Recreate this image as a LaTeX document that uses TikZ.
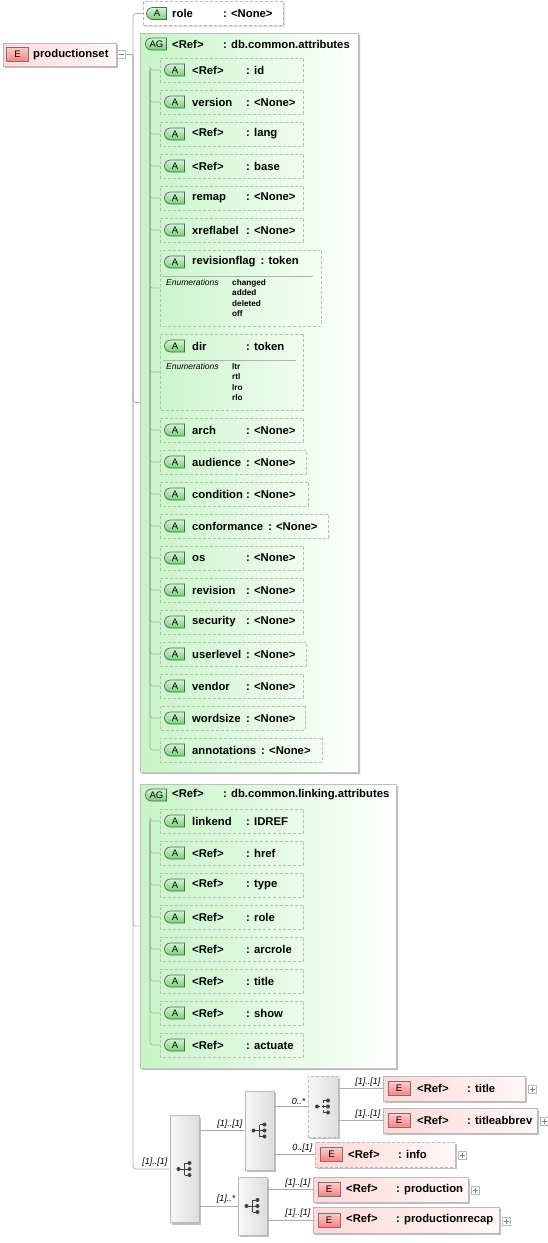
\documentclass[tikz,border=0pt]{standalone}
\usepackage{fontspec}
\setmainfont{Liberation Sans}
\usetikzlibrary{shapes.misc}
\usetikzlibrary{shadows}

\definecolor{agleft}{RGB}{198,245,198}
\definecolor{iconline}{RGB}{70,110,70}
\definecolor{icontop}{RGB}{215,245,215}
\definecolor{iconbot}{RGB}{120,205,120}

\newlength\namewd
\newcommand\attline[3][54pt]{\settowidth\namewd{#2}%
  \ifdim\namewd<#1\relax\setlength\namewd{#1}\else\addtolength\namewd{5pt}\fi
  \makebox[\namewd][l]{#2}: #3}

\begin{document}
\begin{tikzpicture}[x=1pt,y=1pt,yscale=-1,xscale=1,
  conn/.style={draw=gray!65, line width=0.7pt, rounded corners=3pt},
  nm/.style={anchor=west, inner sep=0pt, font=\bfseries\fontsize{11.3}{13}\selectfont},
  attbox/.style={chamfered rectangle, chamfered rectangle corners={north west,south west}, chamfered rectangle sep=5pt, draw=gray!55, dash pattern=on 3pt off 2pt, line width=0.8pt, inner sep=0pt, minimum height=24pt, anchor=west},
  agbox/.style={chamfered rectangle, chamfered rectangle corners={north west,south west}, chamfered rectangle sep=10pt, draw=gray!50, line width=0.7pt, left color=agleft, right color=white, inner sep=0pt, drop shadow={shadow xshift=2pt, shadow yshift=-2pt, fill=black!25, opacity=1}},
  aicon/.style={rounded rectangle, rounded rectangle right arc=none, draw=iconline, line width=0.7pt, top color=icontop, bottom color=iconbot, minimum width=20pt, minimum height=12pt, inner sep=0pt, font=\fontsize{9.5}{9.5}\selectfont},
  elbox/.style={draw=gray!55, line width=0.7pt, left color=red!15, right color=red!3, inner sep=0pt, drop shadow={shadow xshift=2pt, shadow yshift=-2pt, fill=black!25, opacity=1}},
  eicon/.style={draw=black!55, line width=0.7pt, top color=red!20, bottom color=red!50, minimum width=22pt, minimum height=14pt, inner sep=0pt, font=\fontsize{9.5}{9.5}\selectfont},
  seqbox/.style={draw=gray!55, line width=0.7pt, left color=gray!6, right color=gray!26, minimum width=29pt, inner sep=0pt, drop shadow={shadow xshift=2pt, shadow yshift=-2pt, fill=black!25, opacity=1},
    path picture={
      \draw[black!75, line width=1pt, shift={(path picture bounding box.center)}] (-6,0) -- (0,0) (0,-6) -- (0,6) (0,-6) -- (4,-6) (0,6) -- (4,6) (0,0) -- (4,0);
      \fill[black!75, shift={(path picture bounding box.center)}] (-6,0) circle (2pt) (5,-6) circle (2pt) (5,0) circle (2pt) (5,6) circle (2pt);}},
  pmbox/.style={draw=gray!55, fill=white, minimum size=8pt, inner sep=0pt},
  plus/.style={pmbox, path picture={\draw[gray, shift={(path picture bounding box.center)}] (-2.5,0) -- (2.5,0) (0,-2.5) -- (0,2.5);}},
  minus/.style={pmbox, path picture={\draw[gray, shift={(path picture bounding box.center)}] (-2.5,0) -- (2.5,0);}},
  mult/.style={anchor=south east, inner sep=2pt, font=\itshape\fontsize{9}{9}\selectfont},
  sepline/.style={draw=gray!60, line width=0.6pt},
  enumlbl/.style={anchor=north west, inner sep=0pt, font=\itshape\fontsize{8.5}{10.5}\selectfont},
  enumval/.style={anchor=north west, inner sep=0pt, align=left, font=\bfseries\fontsize{8.2}{10.5}\selectfont}]
\useasboundingbox (0,0) rectangle (547,1243);

%Shape: Element productionset
\node[elbox, minimum width=113pt, minimum height=23pt] (pset) at (59.5,54.5) {};
\node[eicon] (pset-i) at (17.5,54.5) {E};
\node[nm] (pset-t) at (33,54.5) {productionset};
\node[minus] (pset-m) at (121,54.5) {};
\coordinate (trunk) at (133,54.5);

%Shape: Attribute role
\node[attbox, fill=white, minimum width=140pt, drop shadow={shadow xshift=1.5pt, shadow yshift=-1.5pt, fill=black!12, opacity=1}] (role) at (143,13.5) {};
\node[aicon] (role-i) at (157,13.5) {A};
\node[nm] (role-t) at (172,13.5) {\attline[51pt]{role}{<None>}};

%Shape: Group db.common.attributes
\node[agbox, minimum width=218pt, minimum height=739pt] (ag1) at (249,402.5) {};
\node[aicon, minimum width=21pt] (ag1-i) at (156.5,44) {AG};
\node[nm] (ag1-t) at (172,44) {\attline[51pt]{<Ref>}{db.common.attributes}};
\coordinate (bus1) at (150,70);

% Attributes of the group
\node[attbox, minimum width=143pt] (at-id) at (160,70) {};
\node[aicon] (at-id-i) at (175,70) {A};
\node[nm] (at-id-t) at (192,70) {\attline{<Ref>}{id}};
\node[attbox, minimum width=143pt] (at-version) at (160,102) {};
\node[aicon] (at-version-i) at (175,102) {A};
\node[nm] (at-version-t) at (192,102) {\attline{version}{<None>}};
\node[attbox, minimum width=143pt] (at-lang) at (160,134) {};
\node[aicon] (at-lang-i) at (175,134) {A};
\node[nm] (at-lang-t) at (192,134) {\attline{<Ref>}{lang}};
\node[attbox, minimum width=143pt] (at-base) at (160,166) {};
\node[aicon] (at-base-i) at (175,166) {A};
\node[nm] (at-base-t) at (192,166) {\attline{<Ref>}{base}};
\node[attbox, minimum width=143pt] (at-remap) at (160,198) {};
\node[aicon] (at-remap-i) at (175,198) {A};
\node[nm] (at-remap-t) at (192,198) {\attline{remap}{<None>}};
\node[attbox, minimum width=143pt] (at-xreflabel) at (160,230) {};
\node[aicon] (at-xreflabel-i) at (175,230) {A};
\node[nm] (at-xreflabel-t) at (192,230) {\attline{xreflabel}{<None>}};

% revisionflag with its enumerations
\node[attbox, minimum width=161pt, minimum height=76pt] (at-revisionflag) at (160,288) {};
\node[aicon] (at-revisionflag-i) at (175,262) {A};
\node[nm] (at-revisionflag-t) at (192,262) {\attline{revisionflag}{token}};
\draw[sepline] (163,276) -- (313,276);
\node[enumlbl] (at-revisionflag-e) at (166,279) {Enumerations};
\node[enumval] (at-revisionflag-v) at (232,279) {changed\\added\\deleted\\off};

% dir with its enumerations
\node[attbox, minimum width=143pt, minimum height=76pt] (at-dir) at (160,372) {};
\node[aicon] (at-dir-i) at (175,346) {A};
\node[nm] (at-dir-t) at (192,346) {\attline{dir}{token}};
\draw[sepline] (163,360) -- (296,360);
\node[enumlbl] (at-dir-e) at (166,363) {Enumerations};
\node[enumval] (at-dir-v) at (232,363) {ltr\\rtl\\lro\\rlo};

\node[attbox, minimum width=143pt] (at-arch) at (160,430) {};
\node[aicon] (at-arch-i) at (175,430) {A};
\node[nm] (at-arch-t) at (192,430) {\attline{arch}{<None>}};
\node[attbox, minimum width=146pt] (at-audience) at (160,462) {};
\node[aicon] (at-audience-i) at (175,462) {A};
\node[nm] (at-audience-t) at (192,462) {\attline{audience}{<None>}};
\node[attbox, minimum width=148pt] (at-condition) at (160,494) {};
\node[aicon] (at-condition-i) at (175,494) {A};
\node[nm] (at-condition-t) at (192,494) {\attline{condition}{<None>}};
\node[attbox, minimum width=168pt] (at-conformance) at (160,526) {};
\node[aicon] (at-conformance-i) at (175,526) {A};
\node[nm] (at-conformance-t) at (192,526) {\attline{conformance}{<None>}};
\node[attbox, minimum width=143pt] (at-os) at (160,558) {};
\node[aicon] (at-os-i) at (175,558) {A};
\node[nm] (at-os-t) at (192,558) {\attline{os}{<None>}};
\node[attbox, minimum width=143pt] (at-revision) at (160,590) {};
\node[aicon] (at-revision-i) at (175,590) {A};
\node[nm] (at-revision-t) at (192,590) {\attline{revision}{<None>}};
\node[attbox, minimum width=143pt] (at-security) at (160,622) {};
\node[aicon] (at-security-i) at (175,622) {A};
\node[nm] (at-security-t) at (192,622) {\attline{security}{<None>}};
\node[attbox, minimum width=146pt] (at-userlevel) at (160,654) {};
\node[aicon] (at-userlevel-i) at (175,654) {A};
\node[nm] (at-userlevel-t) at (192,654) {\attline{userlevel}{<None>}};
\node[attbox, minimum width=143pt] (at-vendor) at (160,686) {};
\node[aicon] (at-vendor-i) at (175,686) {A};
\node[nm] (at-vendor-t) at (192,686) {\attline{vendor}{<None>}};
\node[attbox, minimum width=145pt] (at-wordsize) at (160,718) {};
\node[aicon] (at-wordsize-i) at (175,718) {A};
\node[nm] (at-wordsize-t) at (192,718) {\attline{wordsize}{<None>}};
\node[attbox, minimum width=162pt] (at-annotations) at (160,750) {};
\node[aicon] (at-annotations-i) at (175,750) {A};
\node[nm] (at-annotations-t) at (192,750) {\attline{annotations}{<None>}};

%Shape: Group db.common.linking.attributes
\node[agbox, minimum width=256pt, minimum height=284pt] (ag2) at (268,926) {};
\node[aicon, minimum width=21pt] (ag2-i) at (156.5,795) {AG};
\node[nm] (ag2-t) at (172,795) {\attline[51pt]{<Ref>}{db.common.linking.attributes}};
\coordinate (bus2) at (150,821);

\node[attbox, minimum width=143pt] (lk-linkend) at (160,821) {};
\node[aicon] (lk-linkend-i) at (175,821) {A};
\node[nm] (lk-linkend-t) at (192,821) {\attline{linkend}{IDREF}};
\node[attbox, minimum width=143pt] (lk-href) at (160,853) {};
\node[aicon] (lk-href-i) at (175,853) {A};
\node[nm] (lk-href-t) at (192,853) {\attline{<Ref>}{href}};
\node[attbox, minimum width=143pt] (lk-type) at (160,885) {};
\node[aicon] (lk-type-i) at (175,885) {A};
\node[nm] (lk-type-t) at (192,885) {\attline{<Ref>}{type}};
\node[attbox, minimum width=143pt] (lk-role) at (160,917) {};
\node[aicon] (lk-role-i) at (175,917) {A};
\node[nm] (lk-role-t) at (192,917) {\attline{<Ref>}{role}};
\node[attbox, minimum width=143pt] (lk-arcrole) at (160,949) {};
\node[aicon] (lk-arcrole-i) at (175,949) {A};
\node[nm] (lk-arcrole-t) at (192,949) {\attline{<Ref>}{arcrole}};
\node[attbox, minimum width=143pt] (lk-title) at (160,981) {};
\node[aicon] (lk-title-i) at (175,981) {A};
\node[nm] (lk-title-t) at (192,981) {\attline{<Ref>}{title}};
\node[attbox, minimum width=143pt] (lk-show) at (160,1013) {};
\node[aicon] (lk-show-i) at (175,1013) {A};
\node[nm] (lk-show-t) at (192,1013) {\attline{<Ref>}{show}};
\node[attbox, minimum width=143pt] (lk-actuate) at (160,1045) {};
\node[aicon] (lk-actuate-i) at (175,1045) {A};
\node[nm] (lk-actuate-t) at (192,1045) {\attline{<Ref>}{actuate}};

%Shape: Sequences
\node[seqbox, minimum height=107pt] (seq0) at (184.5,1169) {};
\node[seqbox, minimum height=79pt] (seq1) at (259.5,1130.5) {};
\node[seqbox, minimum width=30pt, minimum height=61pt, dash pattern=on 3pt off 2pt] (seq3) at (323,1106.5) {};
\node[seqbox, minimum height=58pt] (seq2) at (252.5,1206) {};

%Shape: Elements
\node[elbox, minimum width=142pt, minimum height=25pt] (el-title) at (454,1088.5) {};
\node[eicon] (el-title-i) at (399,1088.5) {E};
\node[nm] (el-title-t) at (417,1088.5) {\attline[50pt]{<Ref>}{title}};
\node[plus] (el-title-p) at (532,1089.5) {};
\node[elbox, minimum width=154pt, minimum height=25pt] (el-titleabbrev) at (460,1120.5) {};
\node[eicon] (el-titleabbrev-i) at (399,1120.5) {E};
\node[nm] (el-titleabbrev-t) at (417,1120.5) {\attline[50pt]{<Ref>}{titleabbrev}};
\node[plus] (el-titleabbrev-p) at (544,1121.5) {};
\node[elbox, minimum width=140pt, minimum height=25pt, dash pattern=on 3pt off 2pt] (el-info) at (385,1154.5) {};
\node[eicon] (el-info-i) at (331.5,1154.5) {E};
\node[nm] (el-info-t) at (348,1154.5) {\attline[50pt]{<Ref>}{info}};
\node[plus] (el-info-p) at (462,1155.5) {};
\node[elbox, minimum width=155pt, minimum height=25pt] (el-production) at (390.5,1189.5) {};
\node[eicon] (el-production-i) at (329,1189.5) {E};
\node[nm] (el-production-t) at (346,1189.5) {\attline[50pt]{<Ref>}{production}};
\node[plus] (el-production-p) at (475,1190.5) {};
\node[elbox, minimum width=186pt, minimum height=26pt] (el-productionrecap) at (406,1220) {};
\node[eicon] (el-productionrecap-i) at (329,1220) {E};
\node[nm] (el-productionrecap-t) at (346,1220) {\attline[50pt]{<Ref>}{productionrecap}};
\node[plus] (el-productionrecap-p) at (506,1221) {};

% Connectors
\draw[conn] (pset-m) -- (trunk);
\draw[conn] (trunk) |- (role.west);
\draw[conn] (trunk) |- (ag1.west);
\draw[conn] (trunk) |- (ag2.west);
\draw[conn] (trunk) |- (seq0.west) node[mult] {[1]..[1]};

\draw[conn] (bus1) |- (at-id.west);
\draw[conn] (bus1) |- (at-version.west);
\draw[conn] (bus1) |- (at-lang.west);
\draw[conn] (bus1) |- (at-base.west);
\draw[conn] (bus1) |- (at-remap.west);
\draw[conn] (bus1) |- (at-xreflabel.west);
\draw[conn] (bus1) |- (at-revisionflag.west);
\draw[conn] (bus1) |- (at-dir.west);
\draw[conn] (bus1) |- (at-arch.west);
\draw[conn] (bus1) |- (at-audience.west);
\draw[conn] (bus1) |- (at-condition.west);
\draw[conn] (bus1) |- (at-conformance.west);
\draw[conn] (bus1) |- (at-os.west);
\draw[conn] (bus1) |- (at-revision.west);
\draw[conn] (bus1) |- (at-security.west);
\draw[conn] (bus1) |- (at-userlevel.west);
\draw[conn] (bus1) |- (at-vendor.west);
\draw[conn] (bus1) |- (at-wordsize.west);
\draw[conn] (bus1) |- (at-annotations.west);

\draw[conn] (bus2) |- (lk-linkend.west);
\draw[conn] (bus2) |- (lk-href.west);
\draw[conn] (bus2) |- (lk-type.west);
\draw[conn] (bus2) |- (lk-role.west);
\draw[conn] (bus2) |- (lk-arcrole.west);
\draw[conn] (bus2) |- (lk-title.west);
\draw[conn] (bus2) |- (lk-show.west);
\draw[conn] (bus2) |- (lk-actuate.west);

\draw[conn] (seq0.east |- seq1.west) -- (seq1.west) node[mult] {[1]..[1]};
\draw[conn] (seq0.east |- seq2.west) -- (seq2.west) node[mult] {[1]..*};
\draw[conn] (seq1.east |- seq3.west) -- (seq3.west) node[mult] {0..*};
\draw[conn] (seq1.east |- el-info.west) -- (el-info.west) node[mult] {0..[1]};
\draw[conn] (seq3.east |- el-title.west) -- (el-title.west) node[mult] {[1]..[1]};
\draw[conn] (seq3.east |- el-titleabbrev.west) -- (el-titleabbrev.west) node[mult] {[1]..[1]};
\draw[conn] (seq2.east |- el-production.west) -- (el-production.west) node[mult] {[1]..[1]};
\draw[conn] (seq2.east |- el-productionrecap.west) -- (el-productionrecap.west) node[mult] {[1]..[1]};

\end{tikzpicture}
\end{document}
